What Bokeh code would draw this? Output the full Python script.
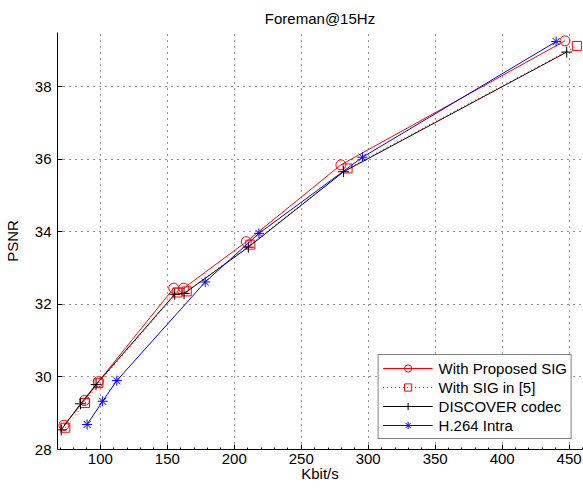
from bokeh.plotting import figure
from bokeh.models import Range1d, Legend, LegendItem, FixedTicker
from bokeh.embed import file_html
from bokeh.resources import INLINE

# Data
prop_x = [72.8, 88.1, 98.5, 154.8, 162.3, 209.0, 279.6, 446.9]
prop_y = [28.67, 29.35, 29.87, 32.45, 32.45, 33.73, 35.85, 39.27]

sig5_x = [73.8, 88.6, 98.5, 157.5, 164.5, 212.0, 284.6, 455.8]
sig5_y = [28.60, 29.28, 29.83, 32.33, 32.36, 33.65, 35.75, 39.13]

disc_x = [70.8, 85.2, 96.8, 155.5, 162.5, 210.5, 281.6, 448.2]
disc_y = [28.54, 29.26, 29.79, 32.28, 32.30, 33.58, 35.66, 38.96]

h264_x = [90.1, 101.7, 112.3, 178.3, 218.4, 295.7, 440.3]
h264_y = [28.69, 29.33, 29.90, 32.62, 33.96, 36.06, 39.25]

x_ticks = [100, 150, 200, 250, 300, 350, 400, 450]
y_ticks = [28, 30, 32, 34, 36, 38]

FONT = "Liberation Sans"

p = figure(width=583, height=492, output_backend="svg", toolbar_location=None,
           x_range=Range1d(68, 460), y_range=Range1d(28, 39.5),
           min_border_left=54, min_border_right=1, min_border_top=32,
           min_border_bottom=43)
p.background_fill_color = "white"
p.border_fill_color = "white"
p.outline_line_color = None

p.title.text = "Foreman@15Hz"
p.title.align = "center"
p.title.text_font = FONT
p.title.text_font_style = "normal"
p.title.text_font_size = "15px"
p.title.text_color = "black"
p.title.standoff = 11
p.title.offset = 0

for ax in (p.xaxis[0], p.yaxis[0]):
    ax.axis_line_color = "black"
    ax.major_tick_line_color = "black"
    ax.minor_tick_line_color = "black"
    ax.major_tick_in = 5
    ax.major_tick_out = 0
    ax.minor_tick_in = 2
    ax.minor_tick_out = 0
    ax.major_label_text_font = FONT
    ax.major_label_text_font_size = "15px"
    ax.major_label_text_color = "black"
    ax.axis_label_text_font = FONT
    ax.axis_label_text_font_size = "15px"
    ax.axis_label_text_font_style = "normal"
    ax.axis_label_text_color = "black"

p.xaxis.ticker = FixedTicker(ticks=x_ticks,
                             minor_ticks=[v for v in range(70, 461, 10)])
p.yaxis.ticker = FixedTicker(ticks=y_ticks)
p.yaxis.minor_tick_line_color = None
p.xaxis.axis_label = "Kbit/s"
p.yaxis.axis_label = "PSNR"
p.xaxis.major_label_standoff = 4
p.yaxis.major_label_standoff = 6
p.xaxis.axis_label_standoff = -2
p.yaxis.axis_label_standoff = 11

for g in (p.xgrid[0], p.ygrid[0]):
    g.grid_line_color = "#333333"
    g.grid_line_dash = "1 5"
    g.grid_line_width = 1

l1 = p.line(prop_x, prop_y, line_color="red", line_width=1)
s1 = p.scatter(prop_x, prop_y, marker="circle", size=10, line_color="red",
               fill_color=None, line_width=1)
l2 = p.line(sig5_x, sig5_y, line_color="red", line_width=1, line_dash="1 3")
s2 = p.scatter(sig5_x, sig5_y, marker="square", size=9, line_color="red",
               fill_color=None, line_width=1)
l3 = p.line(disc_x, disc_y, line_color="black", line_width=1)
s3 = p.scatter(disc_x, disc_y, marker="cross", size=11, line_color="black",
               line_width=1)
l4 = p.line(h264_x, h264_y, line_color="blue", line_width=1)
s4 = p.scatter(h264_x, h264_y, marker="asterisk", size=10, line_color="blue",
               line_width=1)

legend = Legend(items=[
    LegendItem(label="With Proposed SIG", renderers=[l1, s1]),
    LegendItem(label="With SIG in [5]", renderers=[l2, s2]),
    LegendItem(label="DISCOVER codec", renderers=[l3, s3]),
    LegendItem(label="H.264 Intra", renderers=[l4, s4]),
], location="bottom_right")
legend.label_text_font = FONT
legend.label_text_font_size = "15px"
legend.label_text_color = "black"
legend.glyph_width = 50
legend.glyph_height = 18
legend.label_height = 18
legend.spacing = 1
legend.padding = 4
legend.margin = 10
legend.label_standoff = 6
legend.border_line_color = "black"
legend.border_line_width = 1
legend.background_fill_color = "white"
legend.background_fill_alpha = 1
p.add_layout(legend, "center")

open("out.html", "w").write(file_html(p, INLINE))
